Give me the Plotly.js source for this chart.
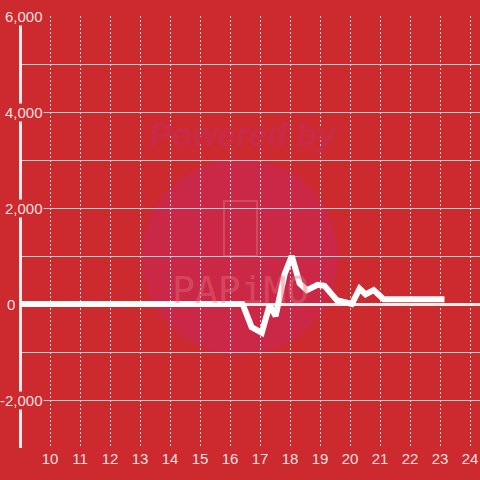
<!DOCTYPE html>
<html>
<head>
<meta charset="utf-8">
<script src="https://cdn.plot.ly/plotly-3.0.1.min.js"></script>
<style>html,body{margin:0;padding:0;background:#cc2a2f;}#chart{width:480px;height:480px;}</style>
</head>
<body>
<div id="chart"></div>
<script>
// Data (hour of day vs value)
const hours  = [9, 16.42, 16.72, 17.06, 17.32, 17.52, 17.82, 18.06, 18.32, 18.56, 18.92, 19.15, 19.56, 20.06, 20.32, 20.52, 20.79, 21.12, 23.15];
const values = [0, 0, -480, -600, -20, -250, 620, 1000, 430, 290, 400, 380, 80, 0, 320, 200, 290, 100, 100];

const xTickVals = [10, 11, 12, 13, 14, 15, 16, 17, 18, 19, 20, 21, 22, 23, 24];
const xTickText = ["10", "11", "12", "13", "14", "15", "16", "17", "18", "19", "20", "21", "22", "23", "24"];
const yTickVals = [6000, 4000, 2000, 0, -2000];
const yTickText = ["6,000", "4,000", "2,000", "0", "-2,000"];

const BG = '#cc2a2f';
const LABEL = 'rgba(255,242,242,0.92)';
const FONT = 'Liberation Sans, Arial, sans-serif';

const W = 480, H = 480, M = {l: 22, r: 0, t: 16, b: 32};
const pw = W - M.l - M.r, ph = H - M.t - M.b;
const px2paperX = p => (p - M.l) / pw;
const px2paperY = p => (H - M.b - p) / ph;

const annotations = yTickVals.map((v, i) => ({
  xref: 'paper', yref: 'y',
  x: yTickText[i] === '0' ? px2paperX(16) : px2paperX(43.5),
  y: v, xanchor: 'right', yanchor: 'middle',
  text: yTickText[i], showarrow: false,
  bgcolor: BG, borderpad: 0,
  font: {family: FONT, size: 15, color: LABEL}
}));

// watermark texts
annotations.push({
  xref: 'paper', yref: 'paper', x: px2paperX(243), y: px2paperY(134),
  xanchor: 'center', yanchor: 'middle', showarrow: false,
  text: 'Powered by',
  font: {family: FONT, size: 33, color: '#c92a48', weight: 'bold', style: 'italic'}
});
annotations.push({
  xref: 'paper', yref: 'paper', x: px2paperX(240), y: px2paperY(290),
  xanchor: 'center', yanchor: 'middle', showarrow: false,
  text: 'PAPiMO',
  font: {family: 'DejaVu Sans Mono, monospace', size: 38, color: 'rgba(225,110,120,0.45)'}
});

const shapes = [
  {type: 'circle', xref: 'paper', yref: 'paper', layer: 'below',
   x0: px2paperX(142), x1: px2paperX(338), y0: px2paperY(355), y1: px2paperY(159),
   fillcolor: '#cb2848', line: {width: 0}},
  {type: 'rect', xref: 'paper', yref: 'paper', layer: 'below',
   x0: px2paperX(224), x1: px2paperX(257), y0: px2paperY(256), y1: px2paperY(201),
   fillcolor: 'rgba(0,0,0,0)', line: {width: 2, color: 'rgba(225,110,120,0.45)'}}
];

const trace = {
  x: hours, y: values, type: 'scatter', mode: 'lines',
  line: {color: '#ffffff', width: 6},
  hoverinfo: 'skip'
};

const layout = {
  width: W, height: H,
  margin: M,
  paper_bgcolor: BG, plot_bgcolor: BG,
  showlegend: false,
  xaxis: {
    range: [10 - (50 - M.l) / 30, 10 - (50 - M.l) / 30 + pw / 30],
    tickvals: xTickVals, ticktext: xTickText,
    showgrid: true, gridcolor: 'rgba(235,235,235,0.9)', gridwidth: 1, griddash: '2px,2px',
    zeroline: false, showline: false, ticks: '',
    tickfont: {family: FONT, size: 15, color: LABEL}
  },
  yaxis: {
    range: [-3000, 6000],
    tickvals: [6000, 5000, 4000, 3000, 2000, 1000, 0, -1000, -2000, -3000],
    showticklabels: false,
    showgrid: true, gridcolor: '#cfcfcf', gridwidth: 1,
    zeroline: true, zerolinecolor: '#eeeeee', zerolinewidth: 3,
    showline: true, linecolor: '#f2eeee', linewidth: 3, ticks: ''
  },
  annotations: annotations,
  shapes: shapes
};

Plotly.newPlot('chart', [trace], layout, {displayModeBar: false, staticPlot: true});
</script>
</body>
</html>
